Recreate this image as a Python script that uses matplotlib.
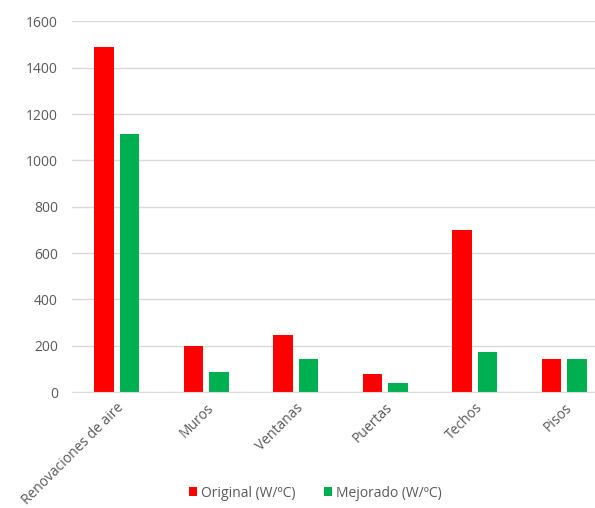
import matplotlib.pyplot as plt
import numpy as np

plt.rcParams.update({
    "font.family": ["Open Sans", "DejaVu Sans"],
    "font.size": 10,
})

categories = ["Renovaciones de aire", "Muros", "Ventanas", "Puertas", "Techos", "Pisos"]
original = [1490, 200, 246, 78, 700, 145]
mejorado = [1115, 88, 145, 40, 174, 145]
series_names = ["Original (W/ºC)", "Mejorado (W/ºC)"]
yticks = [0, 200, 400, 600, 800, 1000, 1200, 1400, 1600]

fig = plt.figure(figsize=(5.95, 5.08), dpi=100)
ax = fig.add_axes([0.121, 0.228, 0.9025, 0.730])

x = np.arange(len(categories))
w = 0.22
gap = 0.065
ax.bar(x - (w + gap) / 2, original, width=w, color="#FF0000", label=series_names[0])
ax.bar(x + (w + gap) / 2, mejorado, width=w, color="#00B050", label=series_names[1])

ax.set_xlim(-0.5, len(categories) - 0.5)
ax.set_ylim(0, 1600)
ax.set_yticks(yticks)
ax.yaxis.grid(True, color="#d9d9d9", linewidth=1)
ax.set_axisbelow(True)
for side in ["top", "right", "left"]:
    ax.spines[side].set_visible(False)
ax.spines["bottom"].set_color("#d9d9d9")
ax.tick_params(axis="both", length=0, colors="#595959", labelsize=10)
ax.tick_params(axis="y", pad=10)

ax.set_xticks(x)
ax.set_xticklabels(categories, rotation=45, ha="right", rotation_mode="anchor")
ax.tick_params(axis="x", pad=6)

leg = fig.legend(loc="lower center", bbox_to_anchor=(0.53, -0.01), ncol=2, frameon=False,
                 handlelength=0.6, handleheight=0.6, handletextpad=0.3, columnspacing=2.0,
                 fontsize=10)
for t in leg.get_texts():
    t.set_color("#595959")

fig.savefig("out.png", dpi=100)
